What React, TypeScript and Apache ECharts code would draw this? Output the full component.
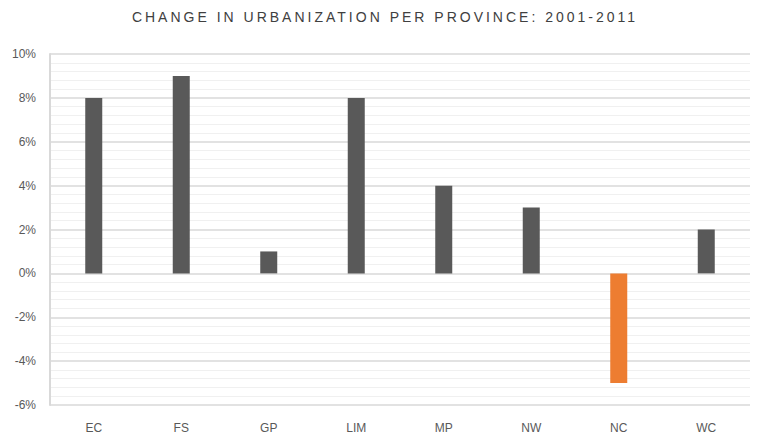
import React, { useEffect, useRef } from "react";
import * as echarts from "echarts";

const categories = ["EC", "FS", "GP", "LIM", "MP", "NW", "NC", "WC"];
const values = [8, 9, 1, 8, 4, 3, -5, 2];
const titleText = "CHANGE IN URBANIZATION PER PROVINCE: 2001-2011";

export default function App() {
  const ref = useRef<HTMLDivElement>(null);
  useEffect(() => {
    document.body.style.margin = "0";
    const chart = echarts.init(ref.current!, null, { renderer: "svg" });
    chart.setOption({
      animation: false,
      grid: { left: 50, right: 10, top: 54, bottom: 31 },
      xAxis: {
        type: "category",
        data: categories,
        axisLine: { show: false },
        axisTick: { show: false },
        axisLabel: {
          color: "#595959",
          fontSize: 12,
          fontFamily: "Liberation Sans, Arial, sans-serif",
          margin: 17,
        },
      },
      yAxis: {
        type: "value",
        min: -6,
        max: 10,
        interval: 2,
        axisLine: { show: true, lineStyle: { color: "#d9d9d9", width: 2 } },
        axisTick: { show: false },
        axisLabel: {
          color: "#595959",
          fontSize: 12,
          fontFamily: "Liberation Sans, Arial, sans-serif",
          formatter: (v: number) => v + "%",
          margin: 14,
        },
        splitLine: { lineStyle: { color: "#d9d9d9", width: 1.5 } },
        minorTick: { show: false, splitNumber: 5 },
        minorSplitLine: { show: true, lineStyle: { color: "#f0f0f0", width: 1 } },
      },
      series: [
        {
          type: "bar",
          data: values.map((v) => ({
            value: v,
            itemStyle: { color: v < 0 ? "#ED7D31" : "#595959" },
          })),
          barWidth: 17,
        },
      ],
    });
    return () => chart.dispose();
  }, []);
  return (
    <div style={{ position: "relative", width: 760, height: 436 }}>
      <div
        style={{
          position: "absolute",
          top: 9,
          left: 5,
          width: 760,
          textAlign: "center",
          fontFamily: "Liberation Sans, Arial, sans-serif",
          fontSize: 14,
          letterSpacing: "3px",
          color: "#404040",
          zIndex: 1,
          pointerEvents: "none",
        }}
      >
        {titleText}
      </div>
      <div ref={ref} style={{ width: 760, height: 436 }} />
    </div>
  );
}
